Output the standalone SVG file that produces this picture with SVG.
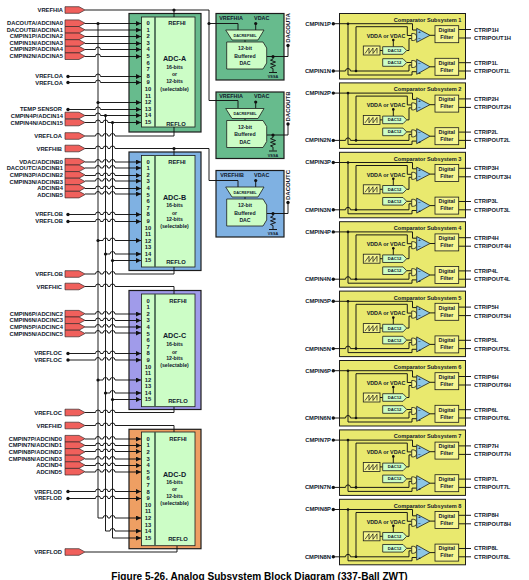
<svg xmlns="http://www.w3.org/2000/svg" width="529" height="580" viewBox="0 0 529 580">
<style>
text{font-family:"Liberation Sans",Arial,sans-serif;font-weight:700;fill:#10182c}
.l{font-size:5.8px;text-anchor:end}
.o{font-size:5.8px}
.p{font-size:5.8px;text-anchor:middle}
.t{font-size:7.2px;text-anchor:middle}
.s{font-size:5.2px;text-anchor:middle}
.c{font-size:5.6px;text-anchor:end}
.d{font-size:4.2px;text-anchor:middle}
.v{font-size:3.8px;text-anchor:middle}
.f{font-size:5.4px;text-anchor:middle}
.q{font-size:6px;text-anchor:middle}
.w{fill:none;stroke:#111;stroke-width:.95}
.a{marker-end:url(#arr)}
.box{stroke:#1c1c1c;stroke-width:1.2}
.in{fill:#ccfdc6;stroke:#1c1c1c;stroke-width:.8}
.div{stroke:#3c5a48;stroke-width:1.6}
.fl{fill:#f0605c;stroke:#3a2a2a;stroke-width:.7}
.dt{fill:#111}
.gr{fill:#67bb8d}.bl{fill:#7fb1e2}.pu{fill:#a09bea}.or{fill:#ee9f63}
.ye{fill:#e9e96e;stroke:#1c1c1c;stroke-width:1}
.ly{fill:#f5f590;stroke:#1c1c1c;stroke-width:.8}
.tri{fill:#8cc6e6;stroke:#1c1c1c;stroke-width:.8}
</style>
<defs>
<marker id="arr" markerUnits="userSpaceOnUse" markerWidth="5" markerHeight="5" refX="5" refY="2.5" orient="auto"><path d="M0 0L5 2.5L0 5z" fill="#111"/></marker>
<polygon id="flag" class="fl" points="65,-3.3 79,-3.3 85,0 79,3.3 65,3.3"/>
<g id="dac-shapes">
<path d="M245 40V42M255.7 23.5V30M266.7 56.5H288V45.5M273 56.5V59l-2.5 1.2 5 1.8-5 1.8 5 1.8-5 1.8 2.5 1.2V72M269 72.5H277" class="w"/>
<path d="M225.7 30H264L258 40H232z" class="in"/>
<path d="M226.7 42H263L266.7 48V63L263 69H226.7z" class="in"/>
<circle cx="255.7" cy="23.5" r="1.6" class="dt"/><circle cx="273" cy="56.5" r="1.6" class="dt"/><circle cx="288" cy="45.5" r="1.7" class="dt"/>
</g>
<g id="cmp-shapes">
<rect x="339.5" y="13.5" width="126" height="65.5" class="ye"/>
<path d="M333.3 23.7H412.5V30H416.7M348 23.7V75H412V71.7H416.7M333.3 71H345.5a2.5 2.5 0 0 1 5 0H356V26.7H407.3V35.5H411.7M356 71H409V65H411.7M406.7 50.5H409V38.5H411.7M406.7 62.5H411.7M393.3 40V46.7M380 50.5H382.7M430 35.3H435M430 66.8H435M458.7 29.5H471M458.7 38H471M458.7 62.7H471M458.7 71H471" class="w"/>
<circle cx="333.3" cy="23.7" r="1.7" class="dt"/><circle cx="333.3" cy="71" r="1.7" class="dt"/><circle cx="348" cy="23.7" r="1.3" class="dt"/><circle cx="356" cy="71" r="1.3" class="dt"/><circle cx="393.3" cy="40" r="1.3" class="dt"/>
<rect x="363.3" y="46" width="16.7" height="9" class="ly"/>
<path d="M365 53.5L369 48V53.5L373 48V53.5L377 48V53.5" fill="none" stroke="#111" stroke-width=".7"/>
<path d="M382.7 46.7H403L406.7 50.5 403 54.3H382.7zM382.7 58.7H403L406.7 62.5 403 66.3H382.7z" class="in"/>
<path d="M411.7 33.5h2a3 3.5 0 0 1 0 7h-2zM411.7 60.5h2a3 3.5 0 0 1 0 7h-2z" class="ly"/>
<path d="M416.7 28.3L430 35.3 416.7 42.3zM416.7 59.3L430 66.8 416.7 74.3z" class="tri"/>
<rect x="435" y="25.7" width="23.7" height="17" class="ly"/><rect x="435" y="58.3" width="23.7" height="17" class="ly"/>
</g>
</defs>

<rect width="529" height="580" fill="#fff"/>

<g id="adc-a">
<rect x="129" y="13.5" width="72" height="118.5" class="box gr"/><rect x="141.5" y="17" width="53.5" height="110" class="in"/><path d="M155 17V127" class="div"/>
<text x="148" y="25" class="p">0</text><text x="148" y="31.6" class="p">1</text><text x="148" y="38.2" class="p">2</text><text x="148" y="44.8" class="p">3</text><text x="148" y="51.4" class="p">4</text><text x="148" y="58" class="p">5</text><text x="148" y="64.6" class="p">6</text><text x="148" y="71.2" class="p">7</text><text x="148" y="77.8" class="p">8</text><text x="148" y="84.4" class="p">9</text><text x="148" y="91" class="p">10</text><text x="148" y="97.6" class="p">11</text><text x="148" y="104.2" class="p">12</text><text x="148" y="110.8" class="p">13</text><text x="148" y="117.4" class="p">14</text><text x="148" y="124" class="p">15</text>
<text x="177" y="25" class="p">REFHI</text><text x="176" y="126" class="p">REFLO</text>
<text x="174.5" y="61" class="t">ADC-A</text><text x="174.5" y="69" class="s">16-bits</text><text x="174.5" y="76" class="s">or</text><text x="174.5" y="83" class="s">12-bits</text><text x="174.5" y="90.5" class="s">(selectable)</text>
</g>
<g id="adc-b">
<rect x="129" y="152" width="72" height="118.5" class="box bl"/><rect x="141.5" y="155.5" width="53.5" height="111.5" class="in"/><path d="M155 155.5V267" class="div"/>
<text x="148" y="163.7" class="p">0</text><text x="148" y="170.3" class="p">1</text><text x="148" y="176.9" class="p">2</text><text x="148" y="183.4" class="p">3</text><text x="148" y="190" class="p">4</text><text x="148" y="196.6" class="p">5</text><text x="148" y="203.2" class="p">6</text><text x="148" y="209.7" class="p">7</text><text x="148" y="216.3" class="p">8</text><text x="148" y="222.9" class="p">9</text><text x="148" y="229.5" class="p">10</text><text x="148" y="236.1" class="p">11</text><text x="148" y="242.7" class="p">12</text><text x="148" y="249.2" class="p">13</text><text x="148" y="255.8" class="p">14</text><text x="148" y="262.4" class="p">15</text>
<text x="177" y="164" class="p">REFHI</text><text x="176" y="264" class="p">REFLO</text>
<text x="174.5" y="200" class="t">ADC-B</text><text x="174.5" y="207" class="s">16-bits</text><text x="174.5" y="214.5" class="s">or</text><text x="174.5" y="221" class="s">12-bits</text><text x="174.5" y="228" class="s">(selectable)</text>
</g>
<g id="adc-c">
<rect x="129" y="290.5" width="72" height="119" class="box pu"/><rect x="141.5" y="294" width="53.5" height="112.7" class="in"/><path d="M155 294V406.7" class="div"/>
<text x="148" y="302.7" class="p">0</text><text x="148" y="309.3" class="p">1</text><text x="148" y="315.9" class="p">2</text><text x="148" y="322.4" class="p">3</text><text x="148" y="329" class="p">4</text><text x="148" y="335.6" class="p">5</text><text x="148" y="342.2" class="p">6</text><text x="148" y="348.7" class="p">7</text><text x="148" y="355.3" class="p">8</text><text x="148" y="361.9" class="p">9</text><text x="148" y="368.5" class="p">10</text><text x="148" y="375.1" class="p">11</text><text x="148" y="381.7" class="p">12</text><text x="148" y="388.2" class="p">13</text><text x="148" y="394.8" class="p">14</text><text x="148" y="401.4" class="p">15</text>
<text x="178" y="302.7" class="p">REFHI</text><text x="178" y="402.7" class="p">REFLO</text>
<text x="174.5" y="338" class="t">ADC-C</text><text x="174.5" y="346" class="s">16-bits</text><text x="174.5" y="353.5" class="s">or</text><text x="174.5" y="360" class="s">12-bits</text><text x="174.5" y="367" class="s">(selectable)</text>
</g>
<g id="adc-d">
<rect x="129" y="429.3" width="72" height="119.4" class="box or"/><rect x="141.5" y="432" width="53.5" height="113.7" class="in"/><path d="M155 432V545.7" class="div"/>
<text x="148" y="440.7" class="p">0</text><text x="148" y="447.3" class="p">1</text><text x="148" y="453.9" class="p">2</text><text x="148" y="460.5" class="p">3</text><text x="148" y="467" class="p">4</text><text x="148" y="473.7" class="p">5</text><text x="148" y="480.3" class="p">6</text><text x="148" y="486.9" class="p">7</text><text x="148" y="493.5" class="p">8</text><text x="148" y="500" class="p">9</text><text x="148" y="506.7" class="p">10</text><text x="148" y="513.3" class="p">11</text><text x="148" y="519.9" class="p">12</text><text x="148" y="526.5" class="p">13</text><text x="148" y="533" class="p">14</text><text x="148" y="539.7" class="p">15</text>
<text x="178" y="441" class="p">REFHI</text><text x="178" y="540.7" class="p">REFLO</text>
<text x="174.5" y="476.6" class="t">ADC-D</text><text x="174.5" y="484" class="s">16-bits</text><text x="174.5" y="491" class="s">or</text><text x="174.5" y="498" class="s">12-bits</text><text x="174.5" y="505" class="s">(selectable)</text>
</g>

<g id="dac-a">
<rect x="216" y="13.5" width="68" height="66.5" class="box gr"/><use href="#dac-shapes"/>
<text x="231" y="19.7" class="f">VREFHIA</text><text x="261.7" y="19.7" class="f">VDAC</text><text x="245" y="36.5" class="v">DACREFSEL</text>
<text x="245" y="50" class="s">12-bit</text><text x="245" y="57.5" class="s">Buffered</text><text x="245" y="65" class="s">DAC</text><text x="273" y="78" class="v">VSSA</text>
<text transform="rotate(-90 290 28)" x="290" y="28" class="q">DACOUTA</text>
</g>
<g id="dac-b" transform="translate(0 78.5)">
<rect x="216" y="13.5" width="68" height="66.5" class="box gr"/><use href="#dac-shapes"/>
<text x="231" y="19.7" class="f">VREFHIA</text><text x="261.7" y="19.7" class="f">VDAC</text><text x="245" y="36.5" class="v">DACREFSEL</text>
<text x="245" y="50" class="s">12-bit</text><text x="245" y="57.5" class="s">Buffered</text><text x="245" y="65" class="s">DAC</text><text x="273" y="78" class="v">VSSA</text>
<text transform="rotate(-90 290 28)" x="290" y="28" class="q">DACOUTB</text>
</g>
<g id="dac-c" transform="translate(0 157)">
<rect x="216" y="13.5" width="68" height="66.5" class="box bl"/><use href="#dac-shapes"/>
<text x="232" y="19.7" class="f">VREFHIB</text><text x="261.7" y="19.7" class="f">VDAC</text><text x="245" y="36.5" class="v">DACREFSEL</text>
<text x="245" y="50" class="s">12-bit</text><text x="245" y="57.5" class="s">Buffered</text><text x="245" y="65" class="s">DAC</text><text x="273" y="78" class="v">VSSA</text>
<text transform="rotate(-90 290 28)" x="290" y="28" class="q">DACOUTC</text>
</g>

<g id="connectors">
<path d="M98 23.5V518M105.5 115.5V531M112.5 122.5V538" class="w"/>
<path d="M85 10H209V100.5H238V108M209 23.5H238V30M174 10V17" class="w"/>
<path d="M85 148.5H95.5a2.5 2.5 0 0 1 5 0H103a2.5 2.5 0 0 1 5 0H110a2.5 2.5 0 0 1 5 0H209V180.5H238V187M174 148.5V155.5" class="w"/>
<path d="M85 136H95.5a2.5 2.5 0 0 1 5 0H103a2.5 2.5 0 0 1 5 0H110a2.5 2.5 0 0 1 5 0H174V127" class="w"/>
<path d="M85 274H95.5a2.5 2.5 0 0 1 5 0H103a2.5 2.5 0 0 1 5 0H110a2.5 2.5 0 0 1 5 0H174V267" class="w"/>
<path d="M85 286.5H95.5a2.5 2.5 0 0 1 5 0H103a2.5 2.5 0 0 1 5 0H110a2.5 2.5 0 0 1 5 0H174V294" class="w"/>
<path d="M85 412.5H95.5a2.5 2.5 0 0 1 5 0H103a2.5 2.5 0 0 1 5 0H110a2.5 2.5 0 0 1 5 0H174V407" class="w"/>
<path d="M85 425.5H95.5a2.5 2.5 0 0 1 5 0H103a2.5 2.5 0 0 1 5 0H110a2.5 2.5 0 0 1 5 0H174V432" class="w"/>
<path d="M85 552H177V546" class="w"/>

<path d="M85 23.5H141" class="w a"/><path d="M85 30H141" class="w a"/><path d="M85 36.5H141" class="w a"/><path d="M85 43.5H141" class="w a"/>
<path d="M85 49.5H95.5a2.5 2.5 0 0 1 5 0H141" class="w a"/>
<path d="M85 56.5H95.5a2.5 2.5 0 0 1 5 0H141" class="w a"/>
<path d="M68 76.5H95.5a2.5 2.5 0 0 1 5 0H141" class="w a"/>
<path d="M68 82.5H95.5a2.5 2.5 0 0 1 5 0H141" class="w a"/>
<path d="M98 102.5H141" class="w a"/>
<path d="M68 109.5H95.5a2.5 2.5 0 0 1 5 0H141" class="w a"/>
<path d="M85 115.5H95.5a2.5 2.5 0 0 1 5 0H141" class="w a"/>
<path d="M85 122.5H95.5a2.5 2.5 0 0 1 5 0H103a2.5 2.5 0 0 1 5 0H141" class="w a"/>

<path d="M85 162H95.5a2.5 2.5 0 0 1 5 0H103a2.5 2.5 0 0 1 5 0H110a2.5 2.5 0 0 1 5 0H141" class="w a"/>
<path d="M85 168H95.5a2.5 2.5 0 0 1 5 0H103a2.5 2.5 0 0 1 5 0H110a2.5 2.5 0 0 1 5 0H141" class="w a"/>
<path d="M85 175.5H95.5a2.5 2.5 0 0 1 5 0H103a2.5 2.5 0 0 1 5 0H110a2.5 2.5 0 0 1 5 0H141" class="w a"/>
<path d="M85 181H95.5a2.5 2.5 0 0 1 5 0H103a2.5 2.5 0 0 1 5 0H110a2.5 2.5 0 0 1 5 0H141" class="w a"/>
<path d="M85 188.5H95.5a2.5 2.5 0 0 1 5 0H103a2.5 2.5 0 0 1 5 0H110a2.5 2.5 0 0 1 5 0H141" class="w a"/>
<path d="M85 194H95.5a2.5 2.5 0 0 1 5 0H103a2.5 2.5 0 0 1 5 0H110a2.5 2.5 0 0 1 5 0H141" class="w a"/>
<path d="M68 214.5H95.5a2.5 2.5 0 0 1 5 0H103a2.5 2.5 0 0 1 5 0H110a2.5 2.5 0 0 1 5 0H141" class="w a"/>
<path d="M68 221.5H95.5a2.5 2.5 0 0 1 5 0H103a2.5 2.5 0 0 1 5 0H110a2.5 2.5 0 0 1 5 0H141" class="w a"/>
<path d="M98 240.5H103a2.5 2.5 0 0 1 5 0H110a2.5 2.5 0 0 1 5 0H141" class="w a"/>
<path d="M105.5 254H110a2.5 2.5 0 0 1 5 0H141" class="w a"/>
<path d="M112.5 260.5H141" class="w a"/>

<path d="M85 314H95.5a2.5 2.5 0 0 1 5 0H103a2.5 2.5 0 0 1 5 0H110a2.5 2.5 0 0 1 5 0H141" class="w a"/>
<path d="M85 320.5H95.5a2.5 2.5 0 0 1 5 0H103a2.5 2.5 0 0 1 5 0H110a2.5 2.5 0 0 1 5 0H141" class="w a"/>
<path d="M85 327H95.5a2.5 2.5 0 0 1 5 0H103a2.5 2.5 0 0 1 5 0H110a2.5 2.5 0 0 1 5 0H141" class="w a"/>
<path d="M85 333H95.5a2.5 2.5 0 0 1 5 0H103a2.5 2.5 0 0 1 5 0H110a2.5 2.5 0 0 1 5 0H141" class="w a"/>
<path d="M68 353.5H95.5a2.5 2.5 0 0 1 5 0H103a2.5 2.5 0 0 1 5 0H110a2.5 2.5 0 0 1 5 0H141" class="w a"/>
<path d="M68 360H95.5a2.5 2.5 0 0 1 5 0H103a2.5 2.5 0 0 1 5 0H110a2.5 2.5 0 0 1 5 0H141" class="w a"/>
<path d="M98 380H103a2.5 2.5 0 0 1 5 0H110a2.5 2.5 0 0 1 5 0H141" class="w a"/>
<path d="M105.5 393H110a2.5 2.5 0 0 1 5 0H141" class="w a"/>
<path d="M112.5 399.5H141" class="w a"/>

<path d="M85 439H95.5a2.5 2.5 0 0 1 5 0H103a2.5 2.5 0 0 1 5 0H110a2.5 2.5 0 0 1 5 0H141" class="w a"/>
<path d="M85 445.5H95.5a2.5 2.5 0 0 1 5 0H103a2.5 2.5 0 0 1 5 0H110a2.5 2.5 0 0 1 5 0H141" class="w a"/>
<path d="M85 451.5H95.5a2.5 2.5 0 0 1 5 0H103a2.5 2.5 0 0 1 5 0H110a2.5 2.5 0 0 1 5 0H141" class="w a"/>
<path d="M85 459H95.5a2.5 2.5 0 0 1 5 0H103a2.5 2.5 0 0 1 5 0H110a2.5 2.5 0 0 1 5 0H141" class="w a"/>
<path d="M85 465.5H95.5a2.5 2.5 0 0 1 5 0H103a2.5 2.5 0 0 1 5 0H110a2.5 2.5 0 0 1 5 0H141" class="w a"/>
<path d="M85 472H95.5a2.5 2.5 0 0 1 5 0H103a2.5 2.5 0 0 1 5 0H110a2.5 2.5 0 0 1 5 0H141" class="w a"/>
<path d="M68 491.5H95.5a2.5 2.5 0 0 1 5 0H103a2.5 2.5 0 0 1 5 0H110a2.5 2.5 0 0 1 5 0H141" class="w a"/>
<path d="M68 498.5H95.5a2.5 2.5 0 0 1 5 0H103a2.5 2.5 0 0 1 5 0H110a2.5 2.5 0 0 1 5 0H141" class="w a"/>
<path d="M98 518H103a2.5 2.5 0 0 1 5 0H110a2.5 2.5 0 0 1 5 0H141" class="w a"/>
<path d="M105.5 531H110a2.5 2.5 0 0 1 5 0H141" class="w a"/>
<path d="M112.5 538H141" class="w a"/>

<g class="dt">
<circle cx="98" cy="23.5" r="1.6"/><circle cx="98" cy="102.5" r="1.6"/><circle cx="105.5" cy="115.5" r="1.6"/><circle cx="112.5" cy="122.5" r="1.6"/>
<circle cx="174" cy="10" r="1.6"/><circle cx="209" cy="23.5" r="1.6"/><circle cx="174" cy="148.5" r="1.6"/>
<circle cx="98" cy="240.5" r="1.6"/><circle cx="105.5" cy="254" r="1.6"/><circle cx="112.5" cy="260.5" r="1.6"/>
<circle cx="98" cy="380" r="1.6"/><circle cx="105.5" cy="393" r="1.6"/><circle cx="112.5" cy="399.5" r="1.6"/>
</g>
</g>

<g id="inputs-a">
<g id="in-vrefhia"><use href="#flag" y="10"/><text x="63" y="12" class="l">VREFHIA</text></g>
<g id="in-a0"><use href="#flag" y="23.2"/><text x="63" y="25" class="l">DACOUTA/ADCINA0</text></g>
<g id="in-a1"><use href="#flag" y="29.8"/><text x="63" y="31.6" class="l">DACOUTB/ADCINA1</text></g>
<g id="in-a2"><use href="#flag" y="36.4"/><text x="63" y="38.2" class="l">CMPIN1P/ADCINA2</text></g>
<g id="in-a3"><use href="#flag" y="43"/><text x="63" y="44.8" class="l">CMPIN1N/ADCINA3</text></g>
<g id="in-a4"><use href="#flag" y="49.6"/><text x="63" y="51.4" class="l">CMPIN2P/ADCINA4</text></g>
<g id="in-a5"><use href="#flag" y="56.2"/><text x="63" y="58" class="l">CMPIN2N/ADCINA5</text></g>
<g id="in-a8"><circle cx="68" cy="76.5" r="1.7" class="dt"/><text x="63" y="78" class="l">VREFLOA</text></g>
<g id="in-a9"><circle cx="68" cy="82.5" r="1.7" class="dt"/><text x="63" y="84.5" class="l">VREFLOA</text></g>
<g id="in-a13"><circle cx="68" cy="109.5" r="1.7" class="dt"/><text x="62" y="111" class="l">TEMP SENSOR</text></g>
<g id="in-a14"><use href="#flag" y="115.5"/><text x="63" y="117.5" class="l">CMPIN4P/ADCIN14</text></g>
<g id="in-a15"><use href="#flag" y="122.5"/><text x="63" y="124.5" class="l">CMPIN4N/ADCIN15</text></g>
<g id="in-vrefloa"><use href="#flag" y="136"/><text x="62" y="138" class="l">VREFLOA</text></g>
</g>
<g id="inputs-b">
<g id="in-vrefhib"><use href="#flag" y="148.5"/><text x="62" y="150.5" class="l">VREFHIB</text></g>
<g id="in-b0"><use href="#flag" y="161.7"/><text x="63" y="163.7" class="l">VDAC/ADCINB0</text></g>
<g id="in-b1"><use href="#flag" y="168.3"/><text x="63" y="170.3" class="l">DACOUTC/ADCINB1</text></g>
<g id="in-b2"><use href="#flag" y="174.9"/><text x="63" y="176.9" class="l">CMPIN3P/ADCINB2</text></g>
<g id="in-b3"><use href="#flag" y="181.5"/><text x="63" y="183.5" class="l">CMPIN3N/ADCINB3</text></g>
<g id="in-b4"><use href="#flag" y="188"/><text x="63" y="190" class="l">ADCINB4</text></g>
<g id="in-b5"><use href="#flag" y="194.6"/><text x="63" y="196.6" class="l">ADCINB5</text></g>
<g id="in-b8"><circle cx="68" cy="214.5" r="1.7" class="dt"/><text x="63" y="216.3" class="l">VREFLOB</text></g>
<g id="in-b9"><circle cx="68" cy="221.5" r="1.7" class="dt"/><text x="63" y="223" class="l">VREFLOB</text></g>
<g id="in-vreflob"><use href="#flag" y="274"/><text x="63" y="276" class="l">VREFLOB</text></g>
</g>
<g id="inputs-c">
<g id="in-vrefhic"><use href="#flag" y="286.5"/><text x="62" y="288.5" class="l">VREFHIC</text></g>
<g id="in-c2"><use href="#flag" y="313.7"/><text x="63" y="315.5" class="l">CMPIN6P/ADCINC2</text></g>
<g id="in-c3"><use href="#flag" y="320.3"/><text x="63" y="322" class="l">CMPIN6N/ADCINC3</text></g>
<g id="in-c4"><use href="#flag" y="326.9"/><text x="63" y="329" class="l">CMPIN5P/ADCINC4</text></g>
<g id="in-c5"><use href="#flag" y="333.5"/><text x="63" y="335.5" class="l">CMPIN5N/ADCINC5</text></g>
<g id="in-c8"><circle cx="68" cy="353.5" r="1.7" class="dt"/><text x="62" y="355.3" class="l">VREFLOC</text></g>
<g id="in-c9"><circle cx="68" cy="360" r="1.7" class="dt"/><text x="62" y="362" class="l">VREFLOC</text></g>
<g id="in-vrefloc"><use href="#flag" y="412.5"/><text x="62" y="414.5" class="l">VREFLOC</text></g>
</g>
<g id="inputs-d">
<g id="in-vrefhid"><use href="#flag" y="425.5"/><text x="62" y="427.5" class="l">VREFHID</text></g>
<g id="in-d0"><use href="#flag" y="438.7"/><text x="62" y="440.7" class="l">CMPIN7P/ADCIND0</text></g>
<g id="in-d1"><use href="#flag" y="445.3"/><text x="62" y="447.3" class="l">CMPIN7N/ADCIND1</text></g>
<g id="in-d2"><use href="#flag" y="451.9"/><text x="62" y="453.9" class="l">CMPIN8P/ADCIND2</text></g>
<g id="in-d3"><use href="#flag" y="458.5"/><text x="62" y="460.5" class="l">CMPIN8N/ADCIND3</text></g>
<g id="in-d4"><use href="#flag" y="465.1"/><text x="62" y="467" class="l">ADCIND4</text></g>
<g id="in-d5"><use href="#flag" y="471.7"/><text x="62" y="473.7" class="l">ADCIND5</text></g>
<g id="in-d8"><circle cx="68" cy="491.5" r="1.7" class="dt"/><text x="62" y="493.5" class="l">VREFLOD</text></g>
<g id="in-d9"><circle cx="68" cy="498.5" r="1.7" class="dt"/><text x="62" y="500" class="l">VREFLOD</text></g>
<g id="in-vreflod"><use href="#flag" y="552"/><text x="62" y="554" class="l">VREFLOD</text></g>
</g>

<g id="comparator-1"><use href="#cmp-shapes"/>
<text x="461.5" y="22" class="c">Comparator Subsystem 1</text><text x="386" y="37.8" class="f">VDDA or VDAC</text><text x="394.5" y="52" class="d">DAC12</text><text x="394.5" y="64" class="d">DAC12</text><text x="419.5" y="32.5" class="d">+</text><text x="419.5" y="39.5" class="d">−</text><text x="419.5" y="65" class="d">−</text><text x="419.5" y="73.5" class="d">+</text><text x="446.8" y="32" class="f">Digital</text><text x="446.8" y="39" class="f">Filter</text><text x="446.8" y="64.7" class="f">Digital</text><text x="446.8" y="71.7" class="f">Filter</text>
<text x="331" y="25.7" class="l">CMPIN1P</text><text x="331" y="73" class="l">CMPIN1N</text><text x="474" y="31.5" class="o">CTRIP1H</text><text x="474" y="40" class="o">CTRIPOUT1H</text><text x="474" y="64.7" class="o">CTRIP1L</text><text x="474" y="73" class="o">CTRIPOUT1L</text></g>
<g id="comparator-2" transform="translate(0 69.4)"><use href="#cmp-shapes"/>
<text x="461.5" y="22" class="c">Comparator Subsystem 2</text><text x="386" y="37.8" class="f">VDDA or VDAC</text><text x="394.5" y="52" class="d">DAC12</text><text x="394.5" y="64" class="d">DAC12</text><text x="419.5" y="32.5" class="d">+</text><text x="419.5" y="39.5" class="d">−</text><text x="419.5" y="65" class="d">−</text><text x="419.5" y="73.5" class="d">+</text><text x="446.8" y="32" class="f">Digital</text><text x="446.8" y="39" class="f">Filter</text><text x="446.8" y="64.7" class="f">Digital</text><text x="446.8" y="71.7" class="f">Filter</text>
<text x="331" y="25.7" class="l">CMPIN2P</text><text x="331" y="73" class="l">CMPIN2N</text><text x="474" y="31.5" class="o">CTRIP2H</text><text x="474" y="40" class="o">CTRIPOUT2H</text><text x="474" y="64.7" class="o">CTRIP2L</text><text x="474" y="73" class="o">CTRIPOUT2L</text></g>
<g id="comparator-3" transform="translate(0 138.8)"><use href="#cmp-shapes"/>
<text x="461.5" y="22" class="c">Comparator Subsystem 3</text><text x="386" y="37.8" class="f">VDDA or VDAC</text><text x="394.5" y="52" class="d">DAC12</text><text x="394.5" y="64" class="d">DAC12</text><text x="419.5" y="32.5" class="d">+</text><text x="419.5" y="39.5" class="d">−</text><text x="419.5" y="65" class="d">−</text><text x="419.5" y="73.5" class="d">+</text><text x="446.8" y="32" class="f">Digital</text><text x="446.8" y="39" class="f">Filter</text><text x="446.8" y="64.7" class="f">Digital</text><text x="446.8" y="71.7" class="f">Filter</text>
<text x="331" y="25.7" class="l">CMPIN3P</text><text x="331" y="73" class="l">CMPIN3N</text><text x="474" y="31.5" class="o">CTRIP3H</text><text x="474" y="40" class="o">CTRIPOUT3H</text><text x="474" y="64.7" class="o">CTRIP3L</text><text x="474" y="73" class="o">CTRIPOUT3L</text></g>
<g id="comparator-4" transform="translate(0 208.2)"><use href="#cmp-shapes"/>
<text x="461.5" y="22" class="c">Comparator Subsystem 4</text><text x="386" y="37.8" class="f">VDDA or VDAC</text><text x="394.5" y="52" class="d">DAC12</text><text x="394.5" y="64" class="d">DAC12</text><text x="419.5" y="32.5" class="d">+</text><text x="419.5" y="39.5" class="d">−</text><text x="419.5" y="65" class="d">−</text><text x="419.5" y="73.5" class="d">+</text><text x="446.8" y="32" class="f">Digital</text><text x="446.8" y="39" class="f">Filter</text><text x="446.8" y="64.7" class="f">Digital</text><text x="446.8" y="71.7" class="f">Filter</text>
<text x="331" y="25.7" class="l">CMPIN4P</text><text x="331" y="73" class="l">CMPIN4N</text><text x="474" y="31.5" class="o">CTRIP4H</text><text x="474" y="40" class="o">CTRIPOUT4H</text><text x="474" y="64.7" class="o">CTRIP4L</text><text x="474" y="73" class="o">CTRIPOUT4L</text></g>
<g id="comparator-5" transform="translate(0 277.6)"><use href="#cmp-shapes"/>
<text x="461.5" y="22" class="c">Comparator Subsystem 5</text><text x="386" y="37.8" class="f">VDDA or VDAC</text><text x="394.5" y="52" class="d">DAC12</text><text x="394.5" y="64" class="d">DAC12</text><text x="419.5" y="32.5" class="d">+</text><text x="419.5" y="39.5" class="d">−</text><text x="419.5" y="65" class="d">−</text><text x="419.5" y="73.5" class="d">+</text><text x="446.8" y="32" class="f">Digital</text><text x="446.8" y="39" class="f">Filter</text><text x="446.8" y="64.7" class="f">Digital</text><text x="446.8" y="71.7" class="f">Filter</text>
<text x="331" y="25.7" class="l">CMPIN5P</text><text x="331" y="73" class="l">CMPIN5N</text><text x="474" y="31.5" class="o">CTRIP5H</text><text x="474" y="40" class="o">CTRIPOUT5H</text><text x="474" y="64.7" class="o">CTRIP5L</text><text x="474" y="73" class="o">CTRIPOUT5L</text></g>
<g id="comparator-6" transform="translate(0 347)"><use href="#cmp-shapes"/>
<text x="461.5" y="22" class="c">Comparator Subsystem 6</text><text x="386" y="37.8" class="f">VDDA or VDAC</text><text x="394.5" y="52" class="d">DAC12</text><text x="394.5" y="64" class="d">DAC12</text><text x="419.5" y="32.5" class="d">+</text><text x="419.5" y="39.5" class="d">−</text><text x="419.5" y="65" class="d">−</text><text x="419.5" y="73.5" class="d">+</text><text x="446.8" y="32" class="f">Digital</text><text x="446.8" y="39" class="f">Filter</text><text x="446.8" y="64.7" class="f">Digital</text><text x="446.8" y="71.7" class="f">Filter</text>
<text x="331" y="25.7" class="l">CMPIN6P</text><text x="331" y="73" class="l">CMPIN6N</text><text x="474" y="31.5" class="o">CTRIP6H</text><text x="474" y="40" class="o">CTRIPOUT6H</text><text x="474" y="64.7" class="o">CTRIP6L</text><text x="474" y="73" class="o">CTRIPOUT6L</text></g>
<g id="comparator-7" transform="translate(0 416.4)"><use href="#cmp-shapes"/>
<text x="461.5" y="22" class="c">Comparator Subsystem 7</text><text x="386" y="37.8" class="f">VDDA or VDAC</text><text x="394.5" y="52" class="d">DAC12</text><text x="394.5" y="64" class="d">DAC12</text><text x="419.5" y="32.5" class="d">+</text><text x="419.5" y="39.5" class="d">−</text><text x="419.5" y="65" class="d">−</text><text x="419.5" y="73.5" class="d">+</text><text x="446.8" y="32" class="f">Digital</text><text x="446.8" y="39" class="f">Filter</text><text x="446.8" y="64.7" class="f">Digital</text><text x="446.8" y="71.7" class="f">Filter</text>
<text x="331" y="25.7" class="l">CMPIN7P</text><text x="331" y="73" class="l">CMPIN7N</text><text x="474" y="31.5" class="o">CTRIP7H</text><text x="474" y="40" class="o">CTRIPOUT7H</text><text x="474" y="64.7" class="o">CTRIP7L</text><text x="474" y="73" class="o">CTRIPOUT7L</text></g>
<g id="comparator-8" transform="translate(0 485.8)"><use href="#cmp-shapes"/>
<text x="461.5" y="22" class="c">Comparator Subsystem 8</text><text x="386" y="37.8" class="f">VDDA or VDAC</text><text x="394.5" y="52" class="d">DAC12</text><text x="394.5" y="64" class="d">DAC12</text><text x="419.5" y="32.5" class="d">+</text><text x="419.5" y="39.5" class="d">−</text><text x="419.5" y="65" class="d">−</text><text x="419.5" y="73.5" class="d">+</text><text x="446.8" y="32" class="f">Digital</text><text x="446.8" y="39" class="f">Filter</text><text x="446.8" y="64.7" class="f">Digital</text><text x="446.8" y="71.7" class="f">Filter</text>
<text x="331" y="25.7" class="l">CMPIN8P</text><text x="331" y="73" class="l">CMPIN8N</text><text x="474" y="31.5" class="o">CTRIP8H</text><text x="474" y="40" class="o">CTRIPOUT8H</text><text x="474" y="64.7" class="o">CTRIP8L</text><text x="474" y="73" class="o">CTRIPOUT8L</text></g>

<text x="259.5" y="580" font-size="10.1" text-anchor="middle" style="fill:#000">Figure 5-26. Analog Subsystem Block Diagram (337-Ball ZWT)</text>
</svg>
